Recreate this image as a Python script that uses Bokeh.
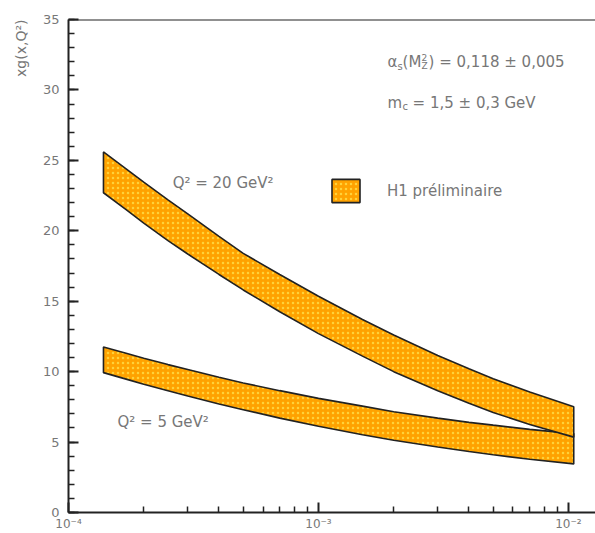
from bokeh.plotting import figure
from bokeh.models import (Range1d, FixedTicker, SingleIntervalTicker, CustomJSTickFormatter,
                          Label, Legend, LegendItem, Span, Title)
from bokeh.embed import file_html
from bokeh.resources import INLINE

# ---- data ----
x_vals = [1.38e-4, 1.7e-4, 2e-4, 2.5e-4, 3e-4, 4e-4, 5e-4, 7e-4,
          1e-3, 1.5e-3, 2e-3, 3e-3, 4e-3, 5e-3, 7e-3, 1.05e-2]
q20_hi = [25.6, 24.4, 23.45, 22.2, 21.2, 19.6, 18.4, 16.9,
          15.35, 13.7, 12.6, 11.15, 10.2, 9.5, 8.55, 7.5]
q20_lo = [22.7, 21.5, 20.55, 19.3, 18.35, 16.9, 15.8, 14.25,
          12.7, 11.1, 10.0, 8.65, 7.75, 7.1, 6.25, 5.35]
q5_hi = [11.75, 11.3, 10.95, 10.5, 10.15, 9.6, 9.2, 8.65,
         8.1, 7.55, 7.15, 6.7, 6.4, 6.2, 5.9, 5.6]
q5_lo = [9.93, 9.47, 9.1, 8.65, 8.27, 7.7, 7.3, 6.7,
         6.12, 5.52, 5.13, 4.65, 4.33, 4.1, 3.78, 3.45]
x_major = [1e-4, 1e-3, 1e-2]
y_label = "xg(x,Q²)"
legend_text = "H1 préliminaire"
q20_text = "Q² = 20 GeV²"
q5_text = "Q² = 5 GeV²"

FONT = "DejaVu Sans"
GRAY = "#777777"
FILL = "#FFA200"
DOT = "#FFD23A"
LINE = "#222222"

p = figure(width=595, height=533, x_axis_type="log",
           x_range=Range1d(1e-4, 1.283e-2), y_range=Range1d(0, 35),
           output_backend="svg", toolbar_location=None,
           min_border_left=68, min_border_right=0, min_border_top=19, min_border_bottom=19)
p.outline_line_color = None
p.xgrid.visible = False
p.ygrid.visible = False
p.background_fill_color = "white"

# axes
minor = [k * d for d in x_major[:-1] for k in range(2, 10)]
p.xaxis.ticker = FixedTicker(ticks=x_major, minor_ticks=minor)
p.xaxis.formatter = CustomJSTickFormatter(code="""
const e = Math.round(Math.log10(tick));
const sup = {'-':'\u207b','0':'\u2070','1':'\u00b9','2':'\u00b2','3':'\u00b3','4':'\u2074',
             '5':'\u2075','6':'\u2076','7':'\u2077','8':'\u2078','9':'\u2079'};
return '10' + String(e).split('').map(c => sup[c]).join('');
""")
p.yaxis.ticker = SingleIntervalTicker(interval=5, num_minor_ticks=5)
for ax in (p.xaxis[0], p.yaxis[0]):
    ax.axis_line_width = 2
    ax.axis_line_color = LINE
    ax.major_tick_in = 10
    ax.major_tick_out = 0
    ax.minor_tick_in = 6
    ax.minor_tick_out = 0
    ax.major_tick_line_width = 2
    ax.major_tick_line_color = LINE
    ax.minor_tick_line_width = 1.5
    ax.minor_tick_line_color = LINE
    ax.major_label_text_font = FONT
    ax.major_label_text_color = GRAY
p.yaxis.major_label_text_font_size = "13px"
p.yaxis.major_label_standoff = 9
p.xaxis.major_label_text_font_size = "12px"
p.xaxis.major_label_standoff = 4

p.add_layout(Span(location=35, dimension="width", line_color=LINE, line_width=2))

t = Title(text=y_label, align="right", text_font=FONT, text_font_size="14px",
          text_color=GRAY, text_font_style="normal", standoff=21)
p.add_layout(t, "left")

# bands
def band(lo, hi):
    xs = list(x_vals) + list(reversed(x_vals))
    ys = list(hi) + list(reversed(lo))
    return p.patch(xs, ys, fill_color=FILL, line_color=LINE, line_width=1.6,
                   hatch_pattern="dot", hatch_color=DOT, hatch_scale=5, hatch_weight=1.3)

r5 = band(q5_lo, q5_hi)
r20 = band(q20_lo, q20_hi)

legend = Legend(items=[LegendItem(label=legend_text, renderers=[r20])],
                location=(260, 307), orientation="vertical",
                glyph_width=35, glyph_height=29, label_standoff=24,
                padding=0, margin=0, spacing=0,
                border_line_alpha=0, background_fill_alpha=0,
                label_text_font=FONT, label_text_font_size="15px", label_text_color=GRAY)
p.add_layout(legend, "center")

def lab(x, y, text, size="15px", xo=0, yo=0):
    p.add_layout(Label(x=x, y=y, text=text, x_offset=xo, y_offset=yo,
                       text_font=FONT, text_font_size=size, text_color=GRAY,
                       text_baseline="middle", text_align="left"))

lab(2.61e-4, 23.4, q20_text)
lab(1.57e-4, 6.4, q5_text)

ax0, ay1, ay2 = 1.89e-3, 31.97, 29.1
lab(ax0, ay1, "α")
lab(ax0, ay1, "s", size="10px", xo=10, yo=-4)
lab(ax0, ay1, "(M", xo=15)
lab(ax0, ay1, "2", size="9px", xo=34, yo=5)
lab(ax0, ay1, "Z", size="9px", xo=34, yo=-4)
lab(ax0, ay1, ") = 0,118 ± 0,005", xo=41)
lab(ax0, ay2, "m")
lab(ax0, ay2, "c", size="10px", xo=15, yo=-4)
lab(ax0, ay2, "= 1,5 ± 0,3 GeV", xo=25)

open("out.html", "w").write(file_html(p, INLINE))
